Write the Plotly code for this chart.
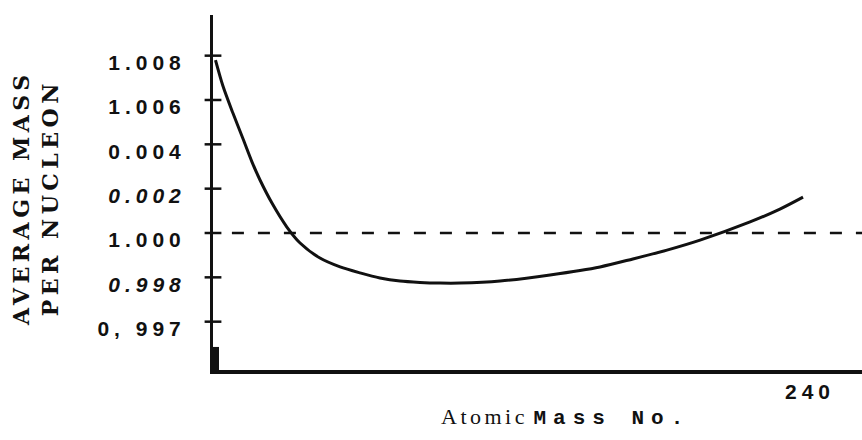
import plotly.graph_objects as go

# Average mass per nucleon against atomic mass number
mass_number = [1, 4.0, 8.0, 12.1, 15.7, 18.9, 23.7, 29.7, 35.0, 43.0, 51.1,
               59.1, 67.1, 75.2, 83.2, 91.3, 99.3, 115.4, 135.5, 155.6,
               168.8, 182.5, 195.8, 215.9, 227.9, 237.2]
mass_per_nucleon = [1.00780, 1.00663, 1.00541, 1.00424, 1.00320, 1.00239,
                    1.00135, 1.00027, 0.99955, 0.99887, 0.99847, 0.99820,
                    0.99797, 0.99783, 0.99777, 0.99774, 0.99774, 0.99783,
                    0.99811, 0.99847, 0.99883, 0.99923, 0.99968, 1.00050,
                    1.00108, 1.00162]

# Reference level at 1.000
ref_level = 1.000
ref_x = [7.6, 261]

# Y-axis ticks and their printed labels
y_tickvals = [1.008, 1.006, 1.004, 1.002, 1.000, 0.998, 0.996]
y_ticktext = ["1.008", "1.006", "0.004", "<i>0.002</i>", "1.000", "<i>0.998</i>", "0, 997"]
x_tickvals = [240]
x_ticktext = ["240"]

X_RANGE = [0, 260.9]
Y_RANGE = [0.993820, 1.009834]

def spaced(s, px):
    return f'<span style="letter-spacing:{px}px">{s}</span>'

fig = go.Figure()

fig.add_trace(go.Scatter(
    x=ref_x, y=[ref_level, ref_level], mode="lines",
    line=dict(color="#111", width=2.7, dash="12px,14px"),
    hoverinfo="skip", showlegend=False,
))

fig.add_trace(go.Scatter(
    x=mass_number, y=mass_per_nucleon, mode="lines",
    line=dict(color="#111", width=3, shape="spline", smoothing=0.8),
    hoverinfo="skip", showlegend=False,
))

# Tick marks crossing the vertical axis
fig.add_trace(go.Scatter(
    x=[0] * len(y_tickvals), y=y_tickvals, mode="markers",
    marker=dict(symbol="line-ew", size=12, line=dict(color="#111", width=2.5)),
    cliponaxis=False, hoverinfo="skip", showlegend=False,
))

# Heavier base of the vertical axis
fig.add_shape(type="line", xref="x", yref="y",
              x0=1.2, x1=1.2, y0=Y_RANGE[0], y1=0.99486,
              line=dict(color="#111", width=6))

serif_title = ("font-family:'DejaVu Serif',serif;font-weight:bold;"
               "letter-spacing:4.5px")
fig.add_annotation(
    text=f'<span style="{serif_title}">AVERAGE MASS</span><br>'
         f'<span style="{serif_title}">PER NUCLEON</span>',
    xref="paper", yref="paper", x=-0.2743, y=0.4845,
    xanchor="center", yanchor="middle", textangle=-90, showarrow=False,
    font=dict(family="DejaVu Serif", size=22, color="#111"),
)

fig.add_annotation(
    text='<span style="font-family:\'Liberation Serif\',serif;letter-spacing:3.5px">Atomic</span> '
         '<span style="font-family:\'Liberation Mono\',\'Courier New\',monospace;'
         'font-weight:bold;font-size:21px;letter-spacing:7px">Mass No.</span>',
    xref="x", yref="paper", x=141.9, y=-0.132,
    xanchor="center", yanchor="middle", showarrow=False,
    font=dict(family="Liberation Serif", size=22, color="#111"),
)

fig.update_layout(
    width=862, height=440,
    margin=dict(l=213, r=0, t=15, b=70),
    paper_bgcolor="white", plot_bgcolor="white",
    xaxis=dict(
        range=X_RANGE, showgrid=False, zeroline=False,
        showline=True, linecolor="#111", linewidth=4,
        tickvals=x_tickvals, ticktext=[spaced(t, 5) for t in x_ticktext],
        ticks="", ticklabelstandoff=0,
        tickfont=dict(family="Liberation Sans", size=21, color="#111", weight=700),
    ),
    yaxis=dict(
        range=Y_RANGE, showgrid=False, zeroline=False,
        showline=True, linecolor="#111", linewidth=3,
        tickvals=y_tickvals, ticktext=[spaced(t, 5) for t in y_ticktext],
        ticks="", ticklabelstandoff=20, ticklabelshift=7,
        tickfont=dict(family="Liberation Sans", size=21, color="#111", weight=700),
    ),
)

fig.write_html("out.html")
